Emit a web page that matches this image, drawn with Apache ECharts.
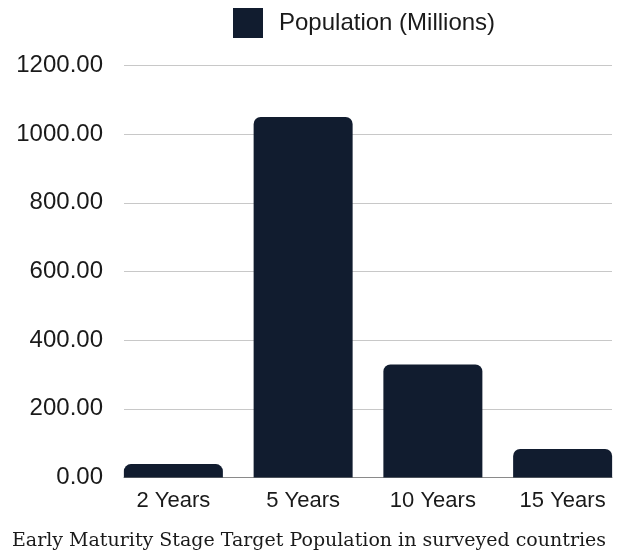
<!DOCTYPE html>
<html><head><meta charset="utf-8">
<script src="https://cdn.jsdelivr.net/npm/echarts@6/dist/echarts.min.js"></script>
<style>html,body{margin:0;padding:0;background:#fff}#c{width:618px;height:550px}</style>
</head><body><div id="c"></div>
<script>
const categories = ["2 Years", "5 Years", "10 Years", "15 Years"];
const population = [39, 1050, 329, 83];
const seriesName = "Population (Millions)";
const titleText = "Early Maturity Stage Target Population in surveyed countries";

const chart = echarts.init(document.getElementById('c'), null, {renderer: 'canvas'});
chart.setOption({
  animation: false,
  backgroundColor: '#ffffff',
  title: {
    text: titleText, left: 'center', top: 527,
    textStyle: {fontFamily: 'DejaVu Serif', fontWeight: 'normal', fontSize: 19, color: '#1a1a1a'}
  },
  legend: {
    data: [seriesName], top: 8, left: 233,
    icon: 'rect', itemWidth: 30, itemHeight: 30, padding: 0,
    textStyle: {fontFamily: 'Liberation Sans', fontSize: 24, color: '#1a1a1a', padding: [0, 0, 0, 11]}
  },
  grid: [
    {left: 124, right: 6, top: 65.5, bottom: 72.5, containLabel: false, outerBoundsMode: 'none'},
    {left: 108.5, width: 519, top: 65.5, bottom: 72.5, containLabel: false, outerBoundsMode: 'none'}
  ],
  xAxis: [{
    gridIndex: 0, type: 'category', data: categories,
    axisTick: {show: false}, axisLabel: {show: false},
    axisLine: {lineStyle: {color: '#8a8a8a', width: 1}}
  }, {
    gridIndex: 1, type: 'category', data: categories,
    axisTick: {show: false}, axisLine: {show: false},
    axisLabel: {fontFamily: 'Liberation Sans', fontSize: 22, color: '#1a1a1a', margin: 12}
  }],
  yAxis: [{
    gridIndex: 0, type: 'value', min: 0, max: 1200, interval: 200,
    axisLine: {show: false}, axisTick: {show: false},
    splitLine: {lineStyle: {color: '#c8c8c8', width: 1}},
    axisLabel: {fontFamily: 'Liberation Sans', fontSize: 24, color: '#1a1a1a', margin: 21,
      formatter: v => v.toFixed(2)}
  }, {
    gridIndex: 1, type: 'value', min: 0, max: 1200, interval: 200,
    show: false, splitLine: {show: false}
  }],
  series: [{
    name: seriesName, type: 'bar', data: population,
    xAxisIndex: 1, yAxisIndex: 1,
    barWidth: 99,
    itemStyle: {color: '#111c2f', borderRadius: [7, 7, 0, 0]}
  }]
});
</script></body></html>
